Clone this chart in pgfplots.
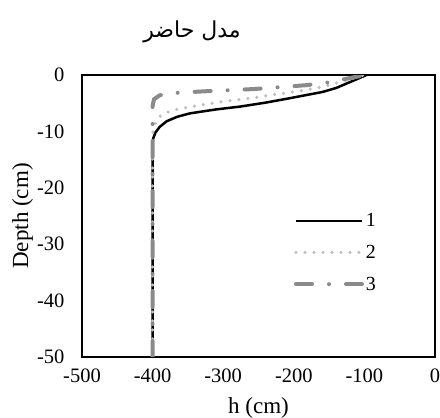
\documentclass[border=0pt]{standalone}
\usepackage{fontspec}
\setmainfont{Liberation Serif}
\newfontfamily\arabicfont[Script=Arabic]{DejaVu Sans}
\TeXXeTstate=1
\usepackage{pgfplots}
\pgfplotsset{compat=1.18}
\definecolor{sertwo}{HTML}{BFBFBF}
\definecolor{serthree}{HTML}{8A8A8A}
\begin{document}
\begin{tikzpicture}[x=1pt,y=1pt]
\useasboundingbox (-82,-61) rectangle (358,357);
\begin{axis}[
  anchor=south west,
  scale only axis, width=353pt, height=282pt,
  xmin=-500, xmax=0, ymin=-50, ymax=0,
  xtick={-500,-400,-300,-200,-100,0},
  ytick={-50,-40,-30,-20,-10,0},
  major tick length=0pt,
  axis line style={line width=1.3pt},
  /pgf/number format/assume math mode=true,
  tick label style={font=\fontsize{20.5}{24}\selectfont},
  yticklabel style={xshift=-14pt},
  xticklabel style={yshift=-8pt},
  xlabel={h (cm)}, ylabel={Depth (cm)},
  label style={font=\fontsize{23}{26}\selectfont},
  xlabel style={at={(axis description cs:0.5,-0.18)}, anchor=center},
  ylabel style={at={(axis description cs:-0.168,0.5)}, anchor=center},
  legend style={draw=none, fill=none, at={(axis description cs:0.6,0.517)}, anchor=north west,
    font=\fontsize{20}{24}\selectfont, row sep=13pt, inner sep=0pt},
  legend cell align=left,
  legend image code/.code={\draw[#1] (0pt,0pt) -- (66pt,0pt);},
]
\addplot[black, line width=2.5pt] coordinates {
(-400,-50) (-400,-12) (-399,-11.2) (-396,-10.2) (-390,-9.2) (-380,-8.2) (-365,-7.4) (-347,-6.8) (-310,-6.1) (-276,-5.6) (-240,-4.9) (-205,-4.1) (-180,-3.5) (-159,-3.0) (-140,-2.3) (-125,-1.5) (-110,-0.7) (-97,0)};
\addlegendentry{1}
\addplot[sertwo, line width=3.5pt, line cap=round, dash pattern=on 0pt off 9pt] coordinates {
(-400,-50) (-400,-10.5) (-398,-9) (-394,-8) (-388,-7.1) (-371,-6.2) (-340,-5.5) (-300,-4.7) (-260,-4.1) (-229,-3.5) (-190,-2.8) (-159,-2.1) (-135,-1.3) (-116,-0.6) (-100,0)};
\addlegendentry{2}
\addplot[serthree, line width=4pt, line cap=round, dash pattern=on 16pt off 17pt on 0pt off 17pt] coordinates {
(-400,-50) (-400,-5.5) (-398,-4.3) (-390,-3.6) (-371,-3.2) (-328,-2.9) (-258,-2.5) (-182,-1.8) (-150,-1.3) (-135,-0.9) (-115,-0.4) (-97,0)};
\addlegendentry{3}
\end{axis}
\node[font=\fontsize{22}{26}\arabicfont] at (110,325) {\beginR مدل حاضر\endR};
\end{tikzpicture}
\end{document}
